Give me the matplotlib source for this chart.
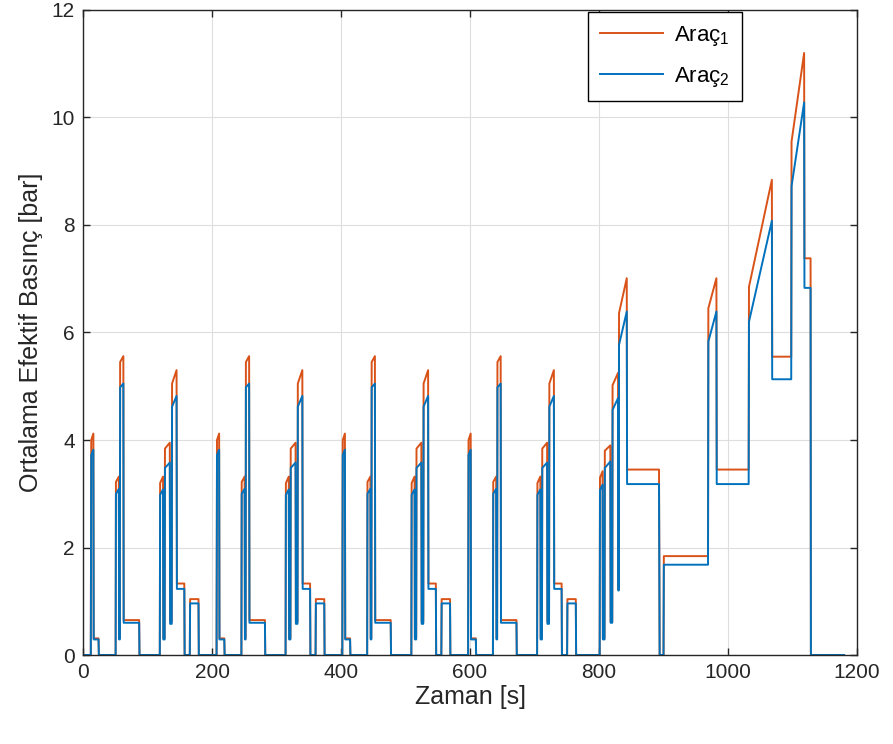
import numpy as np
import matplotlib
matplotlib.use('Agg')
import matplotlib.pyplot as plt

plt.rcParams['font.family'] = ['Liberation Sans', 'DejaVu Sans']
plt.rcParams['mathtext.fontset'] = 'custom'
plt.rcParams['mathtext.rm'] = 'Liberation Sans'
plt.rcParams['mathtext.default'] = 'regular'

# ==========================================
# Veri: bir ECE (şehir içi) çevrimi, 4 kez tekrarlanır
# ==========================================
ece_t = [0, 12, 12.7, 16, 16.5, 24, 24.5,
         50.5, 51, 55.5, 56, 57, 57.5, 62.5, 63, 87, 87.5,
         119, 119.5, 124, 124.5, 126.5, 127, 134.5, 135, 137.5, 138, 145, 145.5,
         157, 157.5, 165.5, 166, 179, 179.5, 195]
ece_p1 = [0, 0, 4.0, 4.12, 0.31, 0.31, 0,
          0, 3.22, 3.32, 0.31, 0.31, 5.45, 5.56, 0.65, 0.65, 0,
          0, 3.2, 3.32, 0.31, 0.31, 3.84, 3.95, 0.62, 0.62, 5.05, 5.3, 1.33,
          1.33, 0, 0, 1.04, 1.04, 0, 0]
ece_p2 = [0, 0, 3.72, 3.82, 0.29, 0.29, 0,
          0, 3.0, 3.09, 0.29, 0.29, 4.98, 5.05, 0.6, 0.6, 0,
          0, 2.98, 3.08, 0.29, 0.29, 3.48, 3.58, 0.58, 0.58, 4.62, 4.82, 1.23,
          1.23, 0, 0, 0.96, 0.96, 0, 0]
n_ece = 4
ece_len = 195

# EUDC (şehir dışı) bölümü
eudc_t = [780, 801, 801.5, 805.5, 806, 808.5, 809, 817.5, 818, 820.5,
          821, 829.5, 830, 830.5, 831, 843, 843.5, 893, 894, 900,
          900.5, 969, 969.5, 982, 982.5, 1032, 1032.5, 1068, 1068.5, 1098,
          1098.5, 1118, 1118.5, 1128, 1128.5, 1180]
eudc_p1 = [0, 0, 3.3, 3.42, 0.31, 0.31, 3.8, 3.9, 0.62, 0.62,
           5.02, 5.25, 1.22, 1.22, 6.36, 7.01, 3.45, 3.45, 0, 0,
           1.84, 1.84, 6.45, 7.01, 3.45, 3.45, 6.85, 8.84, 5.55, 5.55,
           9.55, 11.2, 7.38, 7.38, 0, 0]
eudc_p2 = [0, 0, 3.07, 3.17, 0.29, 0.29, 3.48, 3.6, 0.6, 0.6,
           4.56, 4.78, 1.2, 1.2, 5.77, 6.39, 3.18, 3.18, 0, 0,
           1.68, 1.68, 5.83, 6.39, 3.18, 3.18, 6.2, 8.08, 5.13, 5.13,
           8.72, 10.28, 6.83, 6.83, 0, 0]

labels = ['Araç$_1$', 'Araç$_2$']
colors = ['#D95319', '#0072BD']

# zaman serisini birleştir
t = np.concatenate([np.array(ece_t) + k * ece_len for k in range(n_ece)] + [eudc_t])
p1 = np.concatenate([ece_p1] * n_ece + [eudc_p1])
p2 = np.concatenate([ece_p2] * n_ece + [eudc_p2])

fig = plt.figure(figsize=(8.93, 7.44), dpi=100)
ax = fig.add_axes([0.093, 0.1196, 0.8667, 0.867])

ax.plot(t, p1, color=colors[0], linewidth=1.4, label=labels[0])
ax.plot(t, p2, color=colors[1], linewidth=1.4, label=labels[1])

ax.set_xlim(0, 1200)
ax.set_ylim(0, 12)
ax.set_xticks(np.arange(0, 1201, 200))
ax.set_yticks(np.arange(0, 13, 2))
ax.grid(True, color='#dedede', linewidth=0.8)
ax.set_axisbelow(True)
ax.tick_params(direction='in', top=True, right=True, length=5, width=1,
               colors='#262626', labelsize=15, pad=6)
for s in ax.spines.values():
    s.set_color('#262626')
    s.set_linewidth(1.0)

ax.set_xlabel('Zaman [s]', fontsize=18, color='#262626', labelpad=2)
ax.set_ylabel('Ortalama Efektif Basınç [bar]', fontsize=18, color='#262626', labelpad=6)

leg = ax.legend(loc='upper right', bbox_to_anchor=(0.851, 0.997), fontsize=16,
                fancybox=False, framealpha=1, edgecolor='black', borderaxespad=0,
                handlelength=2.8, handletextpad=0.5, labelspacing=0.75, borderpad=0.55)
leg.get_frame().set_linewidth(1.0)

fig.savefig('out.png', dpi=100)
